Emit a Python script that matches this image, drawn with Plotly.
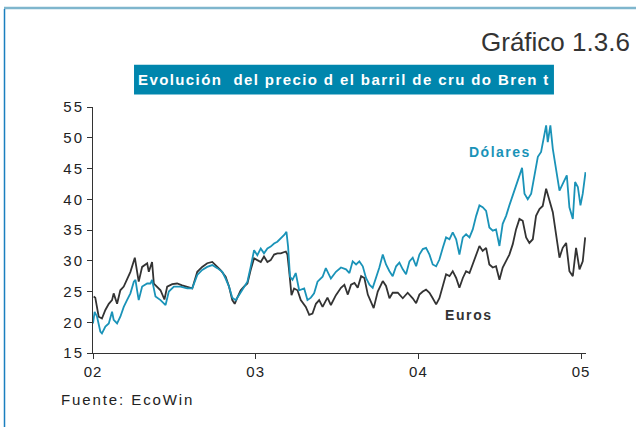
import plotly.graph_objects as go

# Brent crude price, decimal-year dates
usd_t = [2002.000, 2002.010, 2002.025, 2002.045, 2002.055, 2002.076, 2002.097, 2002.117, 2002.127, 2002.148,
         2002.168, 2002.189, 2002.209, 2002.230, 2002.251, 2002.261, 2002.271, 2002.281, 2002.302, 2002.333,
         2002.353, 2002.363, 2002.384, 2002.415, 2002.446, 2002.466, 2002.497, 2002.538, 2002.579, 2002.610,
         2002.641, 2002.671, 2002.702, 2002.733, 2002.764, 2002.795, 2002.815, 2002.836, 2002.856, 2002.877,
         2002.897, 2002.928, 2002.949, 2002.969, 2002.990, 2003.010, 2003.031, 2003.051, 2003.072, 2003.092,
         2003.113, 2003.133, 2003.154, 2003.175, 2003.189, 2003.199, 2003.211, 2003.226, 2003.246, 2003.267,
         2003.298, 2003.318, 2003.339, 2003.359, 2003.380, 2003.411, 2003.431, 2003.462, 2003.493, 2003.524,
         2003.555, 2003.576, 2003.596, 2003.617, 2003.637, 2003.658, 2003.678, 2003.699, 2003.719, 2003.740,
         2003.760, 2003.781, 2003.801, 2003.822, 2003.842, 2003.863, 2003.883, 2003.904, 2003.924, 2003.945,
         2003.965, 2003.986, 2004.006, 2004.027, 2004.047, 2004.068, 2004.088, 2004.109, 2004.129, 2004.150,
         2004.170, 2004.191, 2004.211, 2004.232, 2004.252, 2004.273, 2004.293, 2004.314, 2004.334, 2004.355,
         2004.375, 2004.395, 2004.416, 2004.436, 2004.457, 2004.477, 2004.498, 2004.518, 2004.539, 2004.559,
         2004.580, 2004.600, 2004.621, 2004.637, 2004.652, 2004.672, 2004.693, 2004.713, 2004.734, 2004.754,
         2004.775, 2004.785, 2004.795, 2004.811, 2004.826, 2004.846, 2004.867, 2004.887, 2004.912, 2004.928,
         2004.949, 2004.963, 2004.980, 2004.996, 2005.010, 2005.027]
usd = [19.8, 21.7, 20.9, 18.5, 18.2, 19.3, 19.8, 21.7, 20.4, 19.8,
       20.9, 22.5, 23.6, 24.7, 26.6, 26.9, 25.2, 23.6, 25.8, 26.3,
       26.3, 26.9, 24.2, 23.6, 22.8, 25.0, 25.8, 25.8, 25.5, 25.5,
       27.7, 28.5, 29.0, 29.3, 28.8, 28.2, 27.1, 25.8, 24.0, 23.6,
       24.4, 25.8, 26.6, 29.0, 31.7, 30.9, 32.0, 31.2, 32.0, 32.3,
       32.8, 33.1, 33.6, 34.2, 34.7, 32.3, 27.4, 26.9, 28.0, 25.2,
       25.5, 23.6, 24.0, 24.7, 26.6, 27.4, 28.8, 27.1, 28.2, 28.9,
       28.6, 28.0, 29.9, 29.4, 29.9, 29.1, 27.2, 26.1, 25.6, 27.2,
       28.9, 31.0, 29.4, 28.3, 27.5, 29.1, 29.7, 28.6, 27.8, 29.9,
       30.5, 29.1, 31.0, 31.9, 32.1, 31.0, 29.4, 29.1, 30.2, 32.1,
       33.8, 33.5, 34.6, 33.5, 31.0, 33.8, 34.3, 33.8, 35.1, 37.3,
       39.0, 38.7, 38.1, 35.4, 34.9, 35.1, 32.4, 36.0, 37.3, 39.0,
       40.6, 42.0, 43.6, 45.1, 40.9, 40.0, 40.9, 43.6, 46.9, 47.7,
       50.4, 52.0, 49.3, 52.0, 48.2, 44.7, 41.4, 42.5, 43.9, 38.7,
       36.8, 42.8, 42.0, 39.0, 40.9, 44.4]

eur_t = [2002.004, 2002.014, 2002.035, 2002.055, 2002.076, 2002.097, 2002.117, 2002.127, 2002.148, 2002.168,
         2002.189, 2002.209, 2002.230, 2002.257, 2002.271, 2002.281, 2002.302, 2002.333, 2002.343, 2002.363,
         2002.374, 2002.394, 2002.415, 2002.439, 2002.456, 2002.487, 2002.517, 2002.548, 2002.579, 2002.610,
         2002.641, 2002.671, 2002.702, 2002.733, 2002.764, 2002.784, 2002.815, 2002.836, 2002.856, 2002.871,
         2002.887, 2002.908, 2002.928, 2002.949, 2002.969, 2002.990, 2003.010, 2003.031, 2003.051, 2003.072,
         2003.092, 2003.113, 2003.133, 2003.154, 2003.185, 2003.195, 2003.205, 2003.220, 2003.236, 2003.257,
         2003.277, 2003.308, 2003.329, 2003.349, 2003.370, 2003.390, 2003.411, 2003.441, 2003.462, 2003.493,
         2003.524, 2003.545, 2003.566, 2003.586, 2003.607, 2003.627, 2003.648, 2003.668, 2003.689, 2003.709,
         2003.725, 2003.750, 2003.781, 2003.801, 2003.822, 2003.842, 2003.873, 2003.904, 2003.934, 2003.965,
         2003.986, 2004.006, 2004.027, 2004.047, 2004.068, 2004.088, 2004.109, 2004.129, 2004.150, 2004.170,
         2004.191, 2004.211, 2004.232, 2004.252, 2004.273, 2004.293, 2004.314, 2004.334, 2004.355, 2004.375,
         2004.395, 2004.416, 2004.436, 2004.457, 2004.477, 2004.498, 2004.518, 2004.539, 2004.559, 2004.580,
         2004.600, 2004.621, 2004.641, 2004.662, 2004.682, 2004.703, 2004.723, 2004.744, 2004.764, 2004.785,
         2004.805, 2004.826, 2004.846, 2004.867, 2004.887, 2004.908, 2004.928, 2004.949, 2004.969, 2004.990,
         2005.010, 2005.025]
eur = [24.2, 24.0, 20.9, 20.6, 22.0, 23.0, 23.6, 24.7, 23.0, 25.2,
       25.8, 26.9, 28.2, 30.5, 28.5, 26.6, 29.0, 29.6, 28.2, 29.8,
       26.3, 25.8, 25.2, 23.7, 25.8, 26.2, 26.3, 26.0, 25.8, 25.5,
       28.2, 29.0, 29.6, 29.8, 29.0, 28.5, 27.4, 25.8, 23.6, 23.0,
       24.0, 25.2, 25.8, 26.3, 28.5, 30.4, 30.1, 29.8, 30.7, 29.8,
       30.1, 31.0, 31.2, 31.2, 31.5, 31.0, 28.5, 24.4, 25.5, 25.2,
       23.6, 22.5, 21.2, 21.4, 23.0, 23.6, 22.5, 24.0, 22.8, 24.4,
       25.6, 26.1, 24.5, 26.1, 26.4, 25.6, 27.5, 27.2, 24.5, 23.1,
       22.3, 25.0, 26.7, 25.9, 23.9, 24.8, 24.8, 23.9, 24.8, 23.9,
       23.1, 24.5, 25.0, 25.3, 24.8, 23.9, 22.9, 23.9, 25.9, 27.8,
       27.5, 28.3, 27.2, 25.6, 27.2, 28.3, 28.0, 29.4, 31.0, 32.4,
       31.6, 32.1, 29.4, 28.9, 29.1, 26.9, 28.9, 29.9, 31.0, 32.7,
       35.1, 36.8, 36.5, 33.8, 32.9, 33.5, 37.3, 38.4, 38.9, 41.7,
       39.8, 37.9, 34.3, 30.5, 32.1, 32.9, 28.3, 27.5, 32.1, 28.6,
       29.9, 33.8]

year_ticks = [2002, 2003, 2004, 2005]
year_labels = ["02", "03", "04", "05"]
y_ticks = [15, 20, 25, 30, 35, 40, 45, 50, 55]

BLUE = "#1a93b8"
DARK = "#333333"
FONT = "Liberation Sans, Arial, sans-serif"

fig = go.Figure()
fig.add_trace(go.Scatter(x=eur_t, y=eur, mode="lines", name="Euros",
                         line=dict(color=DARK, width=1.8)))
fig.add_trace(go.Scatter(x=usd_t, y=usd, mode="lines", name="Dólares",
                         line=dict(color=BLUE, width=1.8)))

def sp(t, ls):
    return f"<span style='letter-spacing:{ls}px'>{t}</span>"

fig.update_layout(
    width=636, height=427,
    margin=dict(l=93, r=50, t=107, b=74),
    paper_bgcolor="white", plot_bgcolor="white",
    showlegend=False,
    font=dict(family=FONT, color="#222222", size=15),
    xaxis=dict(range=[2002, 2005.03], tickvals=year_ticks,
               ticktext=[sp(s, 1) for s in year_labels],
               showgrid=False, zeroline=False, showline=True, linecolor=DARK, linewidth=1,
               ticks="outside", ticklen=5, tickcolor=DARK, tickfont=dict(size=15)),
    yaxis=dict(range=[15, 55], tickvals=y_ticks,
               ticktext=[sp(str(v), 2) for v in y_ticks],
               showgrid=False, zeroline=False, showline=True, linecolor=DARK, linewidth=1,
               ticks="outside", ticklen=5, tickcolor=DARK, tickfont=dict(size=15)),
)

# frame lines
fig.add_shape(type="line", xref="paper", yref="paper", x0=-0.1805, x1=1.11, y0=1.4024, y1=1.4024,
              line=dict(color="#7fb6cd", width=2.5))
fig.add_shape(type="line", xref="paper", yref="paper", x0=-0.1795, x1=-0.1795, y0=1.398, y1=-0.32,
              line=dict(color="#1a7fbf", width=1.5))
# title box
fig.add_shape(type="rect", xref="paper", yref="paper", x0=0.0832, x1=0.935, y0=1.0508, y1=1.172,
              fillcolor="#0086ad", line=dict(width=0))

fig.add_annotation(xref="paper", yref="paper", x=0.509, y=1.111, xanchor="center", yanchor="middle",
                   text="<b>" + sp("Evolución  del precio d el barril de cru do Bren t", 1.4) + "</b>",
                   showarrow=False, font=dict(size=15, color="white", family=FONT))
fig.add_annotation(xref="paper", yref="paper", x=1.093, y=1.264, xanchor="right", yanchor="middle",
                   text="Gráfico 1.3.6", showarrow=False, font=dict(size=26, color="#333333", family=FONT))
fig.add_annotation(xref="paper", yref="paper", x=-0.069, y=-0.191, xanchor="left", yanchor="middle",
                   text=sp("Fuente: EcoWin", 1.9), showarrow=False, font=dict(size=15, color="#222222", family=FONT))
fig.add_annotation(x=2004.50, y=47.7, xanchor="center", yanchor="middle",
                   text="<b>" + sp("Dólares", 1.5) + "</b>", showarrow=False,
                   font=dict(size=14, color=BLUE, family=FONT))
fig.add_annotation(x=2004.31, y=21.1, xanchor="center", yanchor="middle",
                   text="<b>" + sp("Euros", 1.6) + "</b>", showarrow=False,
                   font=dict(size=14, color=DARK, family=FONT))

fig.write_html("out.html", config={"displayModeBar": False},
               post_script="document.body.style.margin='0';document.body.style.overflow='hidden';")
